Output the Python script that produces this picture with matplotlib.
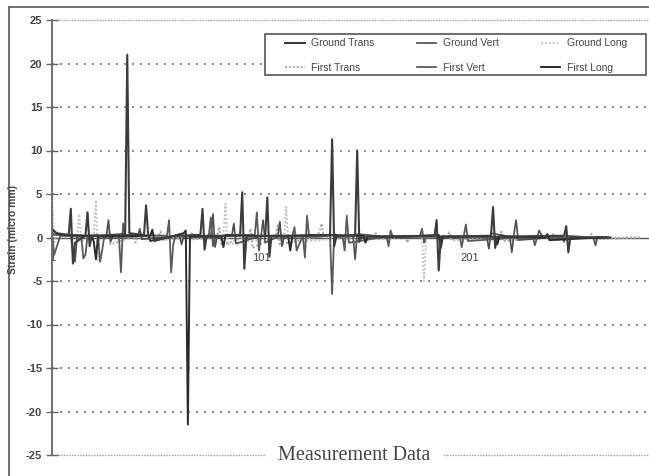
import matplotlib
matplotlib.use('Agg')
import matplotlib.pyplot as plt
from matplotlib.lines import Line2D
from matplotlib.patches import Rectangle

plt.rcParams['font.family'] = ['Liberation Sans Narrow', 'Liberation Sans', 'DejaVu Sans']
plt.rcParams['axes.unicode_minus'] = False

# strain readings (micro mm) against measurement number
gt_x = [1, 3, 6, 9, 10, 11, 12, 17, 18, 19, 20, 30, 36, 37, 38, 44, 45, 46, 47, 48, 60,
        72, 73, 74, 75, 91, 92, 93, 94, 103, 104, 105, 106, 125, 134, 135, 136, 137,
        146, 147, 148, 149, 184, 185, 186, 187, 211, 212, 213, 214, 246, 247, 248, 249, 268]
gt_y = [1.0, 0.5, 0.4, 0.3, 3.3, -3.0, -0.6, 0.2, 2.9, -1.0, 0.2, 0.3, 0.4, 21.0, 0.5, 0.3, 0.3, 3.7, 0.3, -0.4, 0.2,
        0.3, 3.3, -1.4, 0.2, 0.2, 5.2, -3.6, 0.1, 0.2, 4.6, -2.2, 0.2, 0.2, 0.3, 11.3, -1.0, 0.1,
        0.3, 10.0, -0.5, 0.1, 0.2, 2.0, -3.8, 0.1, 0.2, 3.5, -1.2, 0.1, 0.2, 1.3, -1.7, 0.0, 0.0]

gv_x = [1, 2, 5, 15, 16, 17, 18, 23, 24, 25, 26, 33, 34, 35, 36, 56, 57, 58, 59, 60,
        76, 77, 78, 79, 98, 99, 100, 101, 116, 117, 118, 121, 122, 123, 124, 134, 135, 136, 137,
        140, 141, 142, 143, 161, 162, 163, 164, 177, 178, 179, 180, 196, 197, 199, 200,
        231, 232, 234, 236, 266]
gv_y = [0.8, -2.0, 0.2, 0.1, -2.4, -2.0, 0.2, 0.3, -2.8, -1.5, 0.1, 0.2, -4.0, 1.6, 0.3, 0.2, 2.0, -4.0, -0.8, 0.1,
        0.2, 2.3, -1.0, 0.1, 0.3, 2.9, -1.5, 0.2, 0.2, 1.2, -1.5, 0.2, -2.3, 2.5, 0.1, 0.2, -6.5, 0.5, 0.1,
        0.1, -1.5, 2.5, -0.6, 0.1, -1.0, 0.8, 0.1, 0.1, 1.0, -0.6, 0.1, 0.1, -1.1, 1.5, -0.4,
        0.1, -0.9, 0.8, 0.0, 0.0]

gl_x = [1, 2, 4, 13, 14, 15, 21, 22, 23, 24, 50, 65, 83, 84, 85, 112, 113, 114, 150,
        178, 179, 180, 205, 230, 250, 270, 282]
gl_y = [4.5, 0.5, 0.2, 0.2, 2.7, -0.5, 0.2, 4.3, -2.6, 0.1, 0.1, -0.3, 0.2, 3.9, -0.8, 0.1, 3.5, -0.6, 0.1,
        0.1, -5.0, 0.1, 0.1, 0.2, 0.1, 0.0, 0.0]

ft_x = [1, 3, 8, 27, 28, 29, 40, 41, 42, 52, 53, 54, 67, 68, 69, 80, 81, 82, 95, 96, 97,
        108, 109, 110, 128, 129, 130, 131, 155, 156, 157, 170, 171, 172, 190, 191, 192,
        215, 216, 217, 240, 241, 242, 258, 259, 260, 282]
ft_y = [-1.5, 0.3, 0.2, 0.1, 1.5, -0.8, 0.1, -0.6, 0.2, 0.1, 0.7, -0.3, 0.1, 0.6, -0.2, 0.1, 1.2, -0.9, 0.2, 1.0, -1.2,
        0.1, 1.4, -0.8, 0.1, 0.8, 1.6, 0.0, 0.1, 0.5, -0.2, 0.1, -0.6, 0.2, 0.1, 0.6, -0.3,
        0.1, 0.7, -0.4, 0.0, 0.5, -0.3, 0.0, 0.4, -0.2, 0.0]

fv_x = [1, 2, 6, 10, 11, 12, 13, 27, 28, 29, 30, 42, 43, 44, 62, 63, 64, 77, 78, 79, 80,
        87, 88, 89, 101, 102, 103, 109, 110, 111, 112, 130, 131, 145, 146, 147, 160, 175, 206,
        209, 210, 211, 220, 221, 222, 223, 224, 245, 246, 247, 260, 261, 262, 265]
fv_y = [0.6, 0.3, 0.3, 0.2, -1.8, -2.8, 0.1, 0.2, 2.0, -0.5, 0.1, 0.1, 1.0, -0.2, 0.2, -0.8, 0.1, 0.1, 2.7, -1.1, 0.1,
        0.2, 1.6, -0.7, 0.2, 2.0, -0.6, 0.1, 1.8, -1.0, 0.1, 0.1, 0.3, 0.2, -2.5, 0.4, 0.1, 0.1, 0.1,
        0.1, -1.3, 0.5, 0.1, -1.7, 0.4, 2.0, -0.3, 0.1, -0.5, 0.2, 0.0, -0.9, 0.1, 0.0]

fl_x = [1, 4, 8, 20, 21, 22, 23, 48, 49, 50, 64, 65, 66, 67, 68, 82, 83, 84, 114, 115, 116, 126,
        150, 151, 152, 170, 186, 187, 188, 213, 214, 215, 237, 238, 239, 263, 267]
fl_y = [0.9, 0.4, 0.3, 0.2, -0.5, -2.5, 0.1, 0.2, 0.9, -0.4, 0.5, 0.8, -21.5, 0.2, 0.1, 0.1, -1.1, 0.3, 0.1, -1.5, 0.2, 0.3,
        0.2, -0.6, 0.1, 0.1, 0.3, -1.2, 0.1, 0.1, -0.8, 0.1, 0.0, 0.4, -0.3, 0.0, 0.0]

x_ticks = [1, 101, 201]
y_ticks = [-25, -20, -15, -10, -5, 0, 5, 10, 15, 20, 25]

fig = plt.figure(figsize=(6.49, 4.76), dpi=100)
ax = fig.add_axes([52/649, 21/476, 597/649, 435/476])

dot = (0, (1, 1))
l_gl, = ax.plot(gl_x, gl_y, color='#c4c4c4', ls=dot, lw=1.4, label='Ground Long')
l_ft, = ax.plot(ft_x, ft_y, color='#a6a6a6', ls=dot, lw=1.4, label='First Trans')
l_fv, = ax.plot(fv_x, fv_y, color='#4e4e4e', lw=1.2, label='First Vert')
l_gv, = ax.plot(gv_x, gv_y, color='#5a5a5a', lw=1.3, label='Ground Vert')
l_fl, = ax.plot(fl_x, fl_y, color='#2a2a2a', lw=1.4, label='First Long')
l_gt, = ax.plot(gt_x, gt_y, color='#3c3c3c', lw=1.5, label='Ground Trans')

for v in y_ticks:
    if v in (-25, 25):
        ax.axhline(v, color='#999999', lw=1.0, ls=dot, zorder=0, clip_on=False)
    elif v != 0:
        ax.axhline(v, color='#777777', lw=1.2, ls=(0, (1.2, 3.6)), zorder=0)
ax.axhline(0, color='#555555', lw=1.0, zorder=1)

ax.set_xlim(1, 286.6)
ax.set_ylim(-25, 25)
ax.set_yticks(y_ticks)
ax.set_xticks(x_ticks)
ax.set_xticklabels([str(t) for t in x_ticks])
for s in ['top', 'right', 'bottom']:
    ax.spines[s].set_visible(False)
ax.spines['bottom'].set_position(('data', 0))
ax.spines['left'].set_color('#666666')
ax.spines['left'].set_linewidth(1.3)
ax.tick_params(axis='y', direction='inout', length=8, width=1, colors='#666666',
               labelcolor='#444444', labelsize=8, pad=3)
ax.tick_params(axis='x', length=0, pad=11, labelsize=8, labelcolor='#444444')
for lbl in ax.get_yticklabels():
    lbl.set_fontweight('bold')

# legend box drawn by hand so the inner padding can differ from the frame
ax.add_patch(Rectangle((265/649, 1-75/476), 381/649, 41/476, transform=fig.transFigure,
                       facecolor='white', edgecolor='#555555', lw=1.2, zorder=5, clip_on=False))
handles = [l_gt, l_ft, l_gv, l_fv, l_gl, l_fl]
leg = ax.legend(handles, [h.get_label() for h in handles], ncol=3, loc='center', mode='expand',
                bbox_to_anchor=(285/649, 1-75/476, 342/649, 39/476), bbox_transform=fig.transFigure,
                fontsize=7.5, handlelength=1.9, handletextpad=0.6, borderpad=0, borderaxespad=0,
                labelspacing=1.4, frameon=False, labelcolor='#444444')
leg.set_zorder(6)

fig.text(13/649, 1-230/476, 'Strain (micro mm)', rotation=90, fontsize=7.5, fontweight='bold',
         ha='center', va='center', color='#444444')
fig.text(354/649, 1-455/476, 'Measurement Data', family=['Liberation Serif', 'DejaVu Serif'],
         fontsize=14.5, color='#444444', ha='center', va='center',
         bbox=dict(facecolor='white', edgecolor='none', pad=9))

fig.add_artist(Line2D([9/649, 9/649], [0, 1-7/476], transform=fig.transFigure, color='#666666', lw=1.3))
fig.add_artist(Line2D([9/649, 1], [1-7/476, 1-7/476], transform=fig.transFigure, color='#666666', lw=1.3))

fig.savefig('out.png', dpi=100)
